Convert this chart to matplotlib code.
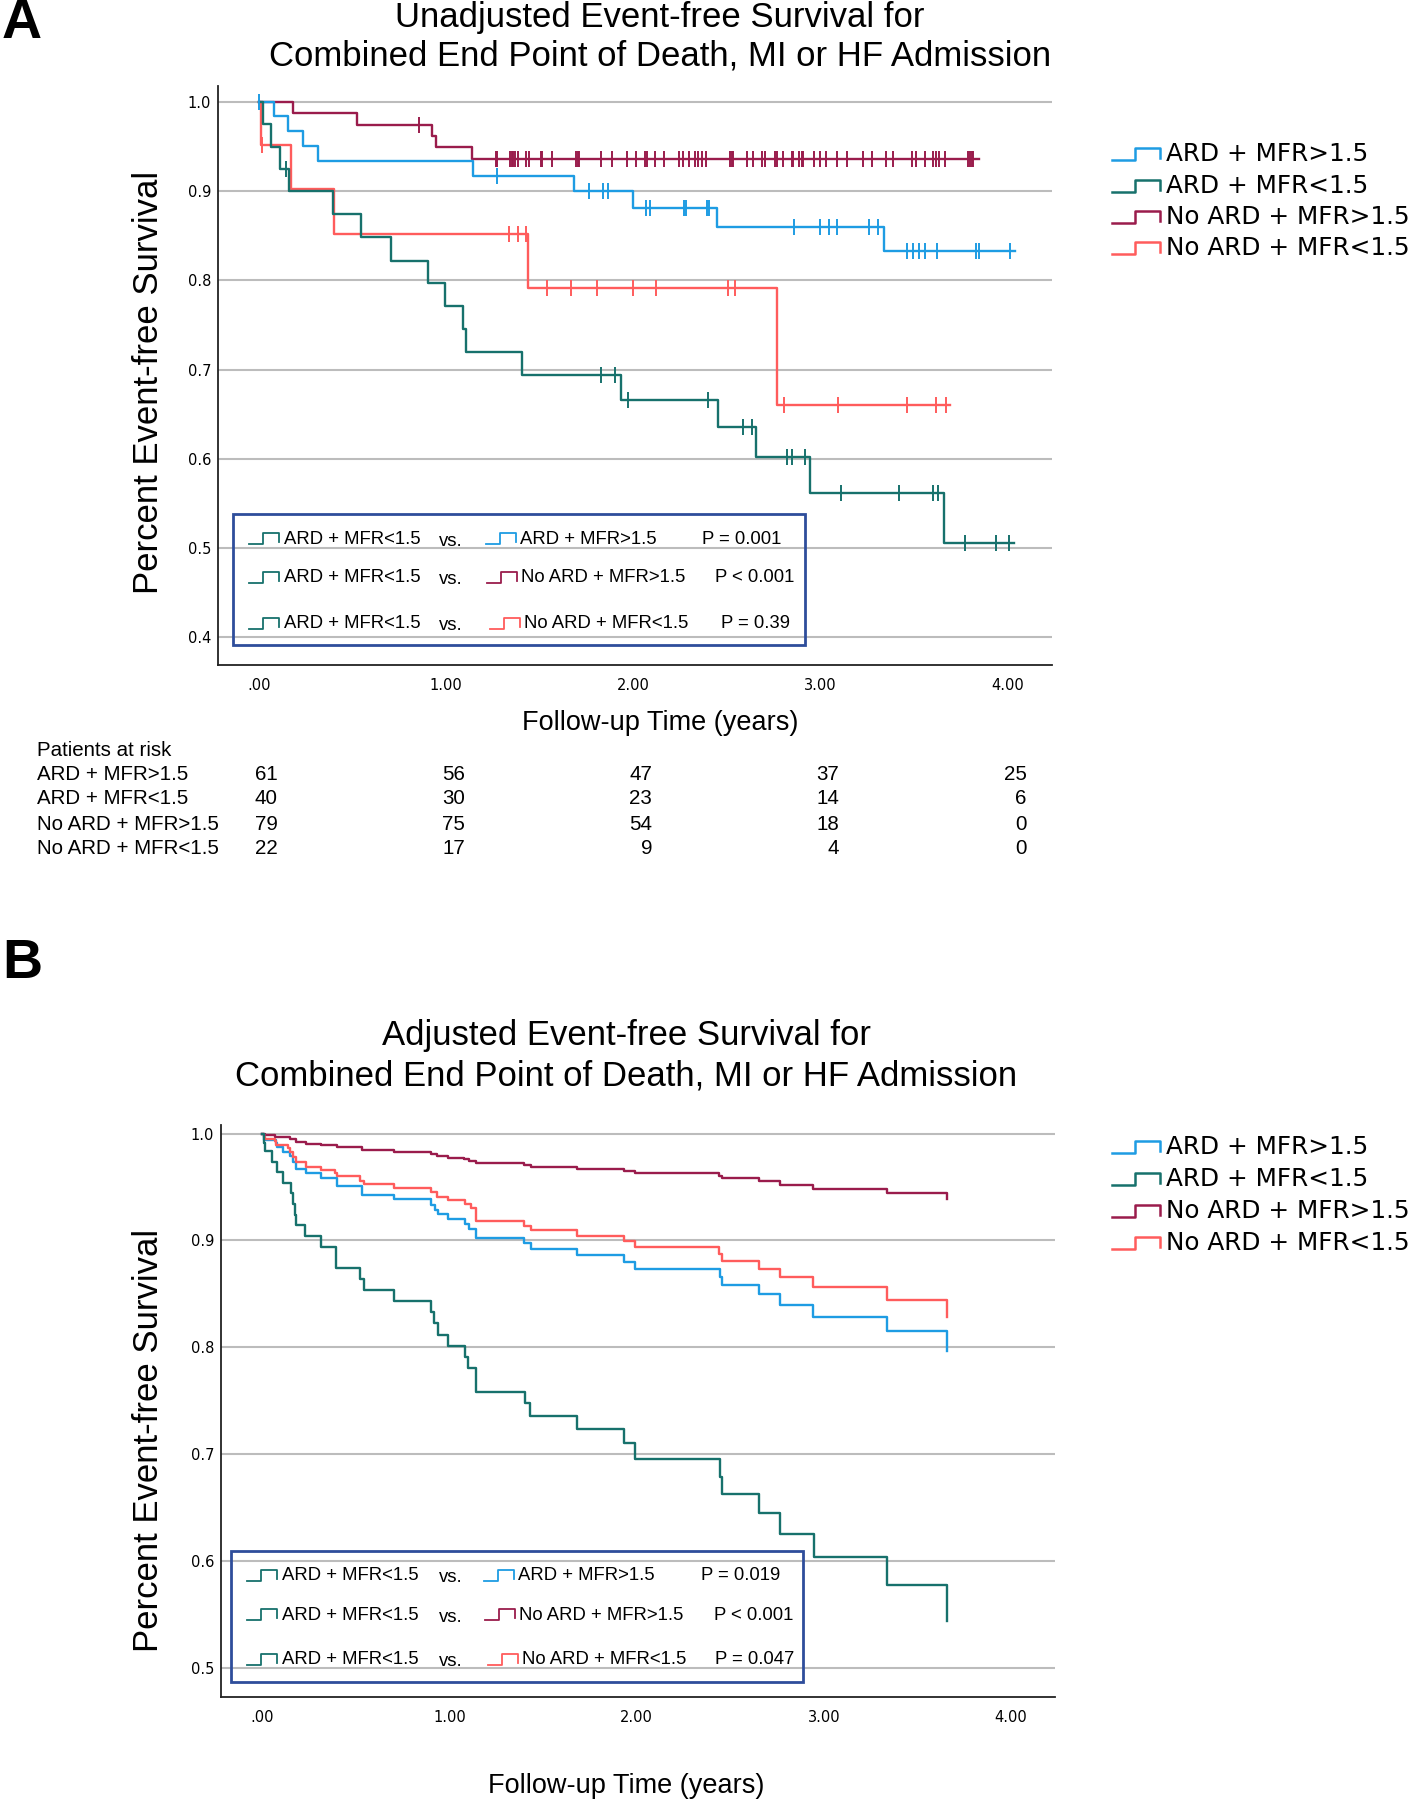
import numpy as np
import matplotlib.pyplot as plt
from matplotlib.lines import Line2D
from matplotlib.patches import Rectangle
from matplotlib.transforms import blended_transform_factory

W, H = 1417, 1800
plt.rcParams["font.family"] = ["Liberation Sans", "DejaVu Sans"]

GROUPS = ["ARD + MFR>1.5", "ARD + MFR<1.5", "No ARD + MFR>1.5", "No ARD + MFR<1.5"]
COLORS = ["#1e9ce3", "#17716c", "#9a1c4c", "#ff5c5c"]

# ============================================================
# Panel A: unadjusted Kaplan-Meier (drop times, survival after drop, censor marks)
# ============================================================
a_ard_hi_t = [0.080, 0.153, 0.235, 0.315, 1.145, 1.684, 1.997, 2.448, 3.340]
a_ard_hi_s = [0.984, 0.967, 0.951, 0.934, 0.917, 0.900, 0.8815, 0.8597, 0.8336]
a_ard_hi_cens = [0.0, 1.272, 1.765, 1.837, 1.864, 2.066, 2.090, 2.268, 2.283, 2.394,
                 2.405, 2.858, 2.997, 3.047, 3.089, 3.258, 3.308, 3.460, 3.492,
                 3.528, 3.558, 3.620, 3.831, 3.849, 4.013]
a_ard_hi_end = 4.04

a_ard_lo_t = [0.023, 0.063, 0.113, 0.162, 0.395, 0.544, 0.706, 0.902, 0.994, 1.087,
              1.103, 1.406, 1.933, 2.454, 2.654, 2.946, 3.660]
a_ard_lo_s = [0.9756, 0.950, 0.925, 0.900, 0.874, 0.8485, 0.8223, 0.7968, 0.7709,
              0.7454, 0.7195, 0.6937, 0.666, 0.6356, 0.6022, 0.5618, 0.506]
a_ard_lo_cens = [0.143, 1.826, 1.903, 1.973, 2.396, 2.587, 2.633, 2.822, 2.848, 2.916,
                 3.110, 3.420, 3.603, 3.627, 3.772, 3.939, 4.008]
a_ard_lo_end = 4.033

a_noard_hi_t = [0.180, 0.525, 0.925, 0.944, 1.135]
a_noard_hi_s = [0.9873, 0.9747, 0.962, 0.9494, 0.9367]
a_noard_hi_cens = [0.853, 1.265, 1.270, 1.341, 1.351, 1.358, 1.368, 1.383, 1.425, 1.444,
                   1.507, 1.513, 1.564, 1.694, 1.702, 1.711, 1.826, 1.885, 1.965, 2.013,
                   2.062, 2.071, 2.115, 2.164, 2.245, 2.263, 2.297, 2.329, 2.347, 2.365,
                   2.386, 2.516, 2.525, 2.534, 2.605, 2.637, 2.685, 2.703, 2.757, 2.766,
                   2.797, 2.845, 2.854, 2.886, 2.899, 2.908, 2.965, 2.997, 3.027, 3.086,
                   3.139, 3.228, 3.276, 3.349, 3.389, 3.487, 3.510, 3.558, 3.602, 3.617,
                   3.634, 3.667, 3.790, 3.799, 3.808, 3.817]
a_noard_hi_end = 3.844

a_noard_lo_t = [0.012, 0.172, 0.401, 1.435, 2.765]
a_noard_lo_s = [0.9524, 0.9025, 0.8523, 0.7912, 0.6604]
a_noard_lo_cens = [0.015, 1.335, 1.383, 1.425, 1.536, 1.665, 1.803, 1.997, 2.118, 2.505,
                   2.544, 2.806, 3.095, 3.460, 3.617, 3.670]
a_noard_lo_end = 3.69

# ============================================================
# Panel B: adjusted (Cox) survival steps
# ============================================================
b_ard_hi_t = [0.008, 0.074, 0.080, 0.112, 0.150, 0.164, 0.179, 0.232, 0.313, 0.398,
              0.532, 0.703, 0.900, 0.923, 0.938, 0.990, 1.085, 1.104, 1.142, 1.400,
              1.434, 1.682, 1.934, 1.991, 2.446, 2.456, 2.655, 2.765, 2.943, 3.335, 3.656]
b_ard_hi_s = [0.9941, 0.991, 0.9872, 0.9828, 0.9791, 0.9738, 0.9672, 0.9635, 0.9588,
              0.9507, 0.9426, 0.9385, 0.9332, 0.9286, 0.9248, 0.9201, 0.9154, 0.9105,
              0.902, 0.8973, 0.892, 0.8861, 0.8799, 0.8736, 0.8661, 0.8583, 0.8496,
              0.8396, 0.8287, 0.8156, 0.7969]

b_ard_lo_t = [0.008, 0.016, 0.054, 0.080, 0.112, 0.156, 0.164, 0.175, 0.179, 0.230,
              0.313, 0.393, 0.522, 0.542, 0.703, 0.903, 0.918, 0.941, 0.991, 1.085,
              1.098, 1.140, 1.402, 1.433, 1.682, 1.933, 1.994, 2.445, 2.454, 2.654,
              2.764, 2.945, 3.338, 3.656]
b_ard_lo_s = [0.991, 0.9832, 0.9732, 0.9638, 0.9541, 0.9441, 0.9342, 0.9242, 0.9142,
              0.9042, 0.8942, 0.8743, 0.8637, 0.8534, 0.8434, 0.8334, 0.8225, 0.8115,
              0.8016, 0.7906, 0.7803, 0.7585, 0.7474, 0.7359, 0.7231, 0.710, 0.6956,
              0.6788, 0.6626, 0.6445, 0.6254, 0.6039, 0.5777, 0.544]

b_noard_hi_t = [0.016, 0.068, 0.150, 0.179, 0.236, 0.313, 0.398, 0.532, 0.703, 0.900,
                0.932, 0.990, 1.076, 1.104, 1.142, 1.400, 1.434, 1.682, 1.934, 1.991,
                2.441, 2.454, 2.655, 2.765, 2.943, 3.335, 3.656]
b_noard_hi_s = [0.9984, 0.9972, 0.9953, 0.9922, 0.9906, 0.9897, 0.9875, 0.9844, 0.9828,
                0.9813, 0.9791, 0.9775, 0.9763, 0.9744, 0.9722, 0.9704, 0.9685, 0.9666,
                0.9647, 0.9632, 0.9598, 0.958, 0.9554, 0.9523, 0.9485, 0.9441, 0.9385]

b_noard_lo_t = [0.008, 0.017, 0.068, 0.074, 0.140, 0.150, 0.164, 0.179, 0.236, 0.313,
                0.389, 0.398, 0.522, 0.542, 0.703, 0.903, 0.932, 0.990, 1.085, 1.113,
                1.142, 1.400, 1.434, 1.682, 1.934, 1.991, 2.441, 2.456, 2.655, 2.765,
                2.943, 3.335, 3.656]
b_noard_lo_s = [0.9972, 0.9947, 0.9934, 0.9897, 0.9862, 0.9831, 0.9785, 0.9729, 0.9691,
                0.966, 0.9629, 0.9598, 0.956, 0.9529, 0.9491, 0.9457, 0.941, 0.9379,
                0.9339, 0.9301, 0.9186, 0.9136, 0.9098, 0.9045, 0.8995, 0.8942, 0.8874,
                0.8811, 0.8736, 0.8655, 0.8562, 0.8446, 0.8287]

# patients at risk (panel A), at 0,1,2,3,4 years
risk_times = [0, 1, 2, 3, 4]
risk_ard_hi = [61, 56, 47, 37, 25]
risk_ard_lo = [40, 30, 23, 14, 6]
risk_noard_hi = [79, 75, 54, 18, 0]
risk_noard_lo = [22, 17, 9, 4, 0]

# pairwise comparisons (ARD + MFR<1.5 vs. the other groups)
pvals_a = ["P = 0.001", "P < 0.001", "P = 0.39"]
pvals_b = ["P = 0.019", "P < 0.001", "P = 0.047"]

xtick_vals = [0, 1, 2, 3, 4]
xtick_labels = [".00", "1.00", "2.00", "3.00", "4.00"]


# ============================================================
# helpers
# ============================================================
def fx(px):
    return px / W


def fy(py):
    return 1 - py / H


def step_glyph(fig, x, y, w, h, color, lw=1.6):
    """Little SPSS-style step symbol; x,y = left/baseline in pixels from top-left."""
    xs = x + np.array([0, 0.47, 0.47, 1.0, 1.0]) * w
    ys = y - np.array([0, 0, 1, 1, 0.2]) * h
    fig.add_artist(Line2D(fx(xs), fy(ys), color=color, lw=lw))


def km_curve(ax, times, surv, end, color, cens=None):
    x = [0.0] + list(times) + [end]
    y = [1.0] + list(surv) + [surv[-1]]
    ax.step(x, y, where="post", color=color, lw=1.7, zorder=3)
    if cens is not None:
        idx = np.searchsorted(np.asarray(times), np.asarray(cens), side="right")
        yc = np.concatenate([[1.0], surv])[idx]
        ax.plot(cens, yc, "|", color=color, ms=11, mew=1.4, zorder=4)


def setup_axes(ax, ylim, yticks):
    ax.set_xlim(-0.22, 4.235)
    ax.set_ylim(*ylim)
    ax.set_xticks(xtick_vals)
    ax.set_xticklabels(xtick_labels)
    ax.set_yticks(yticks)
    ax.set_yticklabels([f"{v:.1f}" for v in yticks])
    ax.grid(axis="y", color="#bcbcbc", lw=1.5)
    ax.set_axisbelow(True)
    for s in ("top", "right"):
        ax.spines[s].set_visible(False)
    for s in ("left", "bottom"):
        ax.spines[s].set_color("#222222")
        ax.spines[s].set_linewidth(1.3)
    ax.tick_params(axis="both", length=0, labelsize=10.5)
    ax.tick_params(axis="x", pad=9)
    ax.tick_params(axis="y", pad=5)
    for lab in ax.get_xticklabels() + ax.get_yticklabels():
        lab.set_family("DejaVu Sans")


def right_legend(fig, rows_y):
    for i, (g, c) in enumerate(zip(GROUPS, COLORS)):
        y = rows_y[i]
        step_glyph(fig, 1112, y + 6, 48, 12, c, lw=1.8)
        fig.text(fx(1166), fy(y), g, fontsize=17.8, family="DejaVu Sans",
                 va="center", ha="left")


def pair_box(fig, box, rows_y, right_x, p_x, pvals):
    x0, y0, x1, y1 = box
    fig.add_artist(Rectangle((fx(x0), fy(y1)), fx(x1) - fx(x0), fy(y0) - fy(y1),
                             transform=fig.transFigure, fill=False,
                             edgecolor="#2e4d9b", lw=2.0))
    others = [0, 2, 3]
    for i in range(3):
        y = rows_y[i]
        k = others[i]
        step_glyph(fig, x0 + 16, y + 5, 30, 11, COLORS[1], lw=1.3)
        fig.text(fx(x0 + 51), fy(y), GROUPS[1], fontsize=13.3, va="center")
        fig.text(fx(451), fy(y + 2), "vs.", fontsize=13.3, va="center", ha="center")
        step_glyph(fig, right_x[i], y + 5, 30, 11, COLORS[k], lw=1.3)
        fig.text(fx(right_x[i] + 34), fy(y), GROUPS[k], fontsize=13.3, va="center")
        fig.text(fx(p_x[i]), fy(y), pvals[i], fontsize=13.3, va="center")


# ============================================================
# figure
# ============================================================
fig = plt.figure(figsize=(W / 100, H / 100), dpi=100)

# ---------------- Panel A
ax_a = fig.add_axes([218 / W, 1 - 665 / H, (1051.7 - 218) / W, (665 - 86) / H])
setup_axes(ax_a, (0.369, 1.018), [0.4, 0.5, 0.6, 0.7, 0.8, 0.9, 1.0])
km_curve(ax_a, a_noard_hi_t, a_noard_hi_s, a_noard_hi_end, COLORS[2], a_noard_hi_cens)
km_curve(ax_a, a_ard_hi_t, a_ard_hi_s, a_ard_hi_end, COLORS[0], a_ard_hi_cens)
km_curve(ax_a, a_noard_lo_t, a_noard_lo_s, a_noard_lo_end, COLORS[3], a_noard_lo_cens)
km_curve(ax_a, a_ard_lo_t, a_ard_lo_s, a_ard_lo_end, COLORS[1], a_ard_lo_cens)

fig.text(fx(2), fy(24), "A", fontsize=40, weight="bold", va="center", ha="left")
fig.text(fx(660), fy(37), "Unadjusted Event-free Survival for\n"
         "Combined End Point of Death, MI or HF Admission",
         fontsize=25, ha="center", va="center", linespacing=1.2)
fig.text(fx(149), fy(382), "Percent Event-free Survival", fontsize=25,
         rotation=90, ha="center", va="center")
fig.text(fx(660), fy(723), "Follow-up Time (years)", fontsize=19.5,
         ha="center", va="center")

right_legend(fig, [154, 186, 217, 248])
pair_box(fig, (233, 514, 804.5, 645), [539, 578, 624], [486, 487, 490],
         [702, 715, 721], pvals_a)

# patients at risk table
fig.text(fx(37), fy(750), "Patients at risk", fontsize=14.8, va="center")
tab_tr = blended_transform_factory(ax_a.transData, fig.transFigure)
risk_rows = [risk_ard_hi, risk_ard_lo, risk_noard_hi, risk_noard_lo]
for i, (g, row) in enumerate(zip(GROUPS, risk_rows)):
    y = [775, 798, 824, 849][i]
    fig.text(fx(37), fy(y), g, fontsize=14.8, va="center")
    for t, n in zip(risk_times, row):
        ax_a.text(t + 0.1, fy(y), str(n), transform=tab_tr, fontsize=14.8,
                  ha="right", va="center", clip_on=False)

# ---------------- Panel B
ax_b = fig.add_axes([221 / W, 1 - 1697.3 / H, (1055 - 221) / W, (1697.3 - 1125) / H])
setup_axes(ax_b, (0.4723, 1.008), [0.5, 0.6, 0.7, 0.8, 0.9, 1.0])
km_curve(ax_b, b_noard_hi_t, b_noard_hi_s, b_noard_hi_t[-1], COLORS[2])
km_curve(ax_b, b_ard_hi_t, b_ard_hi_s, b_ard_hi_t[-1], COLORS[0])
km_curve(ax_b, b_noard_lo_t, b_noard_lo_s, b_noard_lo_t[-1], COLORS[3])
km_curve(ax_b, b_ard_lo_t, b_ard_lo_s, b_ard_lo_t[-1], COLORS[1])

fig.text(fx(2), fy(964), "B", fontsize=40, weight="bold", va="center", ha="left")
fig.text(fx(626), fy(1056), "Adjusted Event-free Survival for\n"
         "Combined End Point of Death, MI or HF Admission",
         fontsize=25, ha="center", va="center", linespacing=1.3)
fig.text(fx(149), fy(1440), "Percent Event-free Survival", fontsize=25,
         rotation=90, ha="center", va="center")
fig.text(fx(626), fy(1786), "Follow-up Time (years)", fontsize=19.5,
         ha="center", va="center")

right_legend(fig, [1147, 1179, 1211, 1243])
pair_box(fig, (230.5, 1551, 803, 1682), [1576, 1615, 1660], [484, 485, 488],
         [701, 714, 715], pvals_b)

fig.savefig("out.png", dpi=100)
